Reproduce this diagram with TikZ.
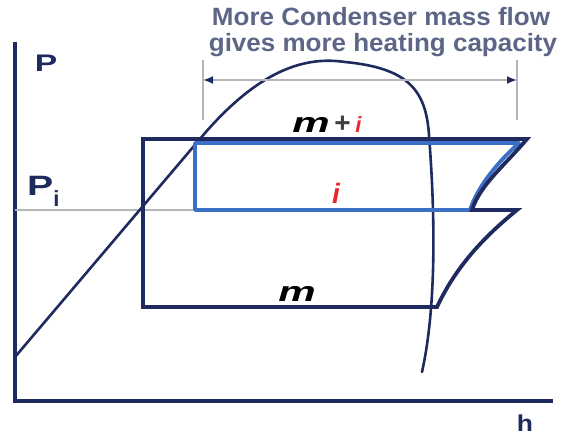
\documentclass[tikz,border=0pt]{standalone}
\usepackage{fontspec}
\setmainfont{Liberation Sans}
\usetikzlibrary{arrows.meta}
\definecolor{navy}{HTML}{1F2A5E}
\definecolor{cI}{HTML}{3C70C6}
\definecolor{slate}{HTML}{5E6687}
\definecolor{cR}{HTML}{E8262C}
\definecolor{grid}{HTML}{B4B6BA}
\tikzset{axis/.style={navy,line width=3.4pt,line join=miter},
  cyc/.style={navy,line width=3.8pt,line join=miter},
  cycI/.style={cI,line width=3.8pt,line join=round},
  dome/.style={navy,line width=2.6pt,line cap=round},
  dim/.style={grid,line width=1.8pt},
  lbl/.style={inner sep=0pt,text=navy,font=\bfseries\fontsize{24}{24}\selectfont},
  note/.style={inner sep=0pt,anchor=base,text=slate,font=\bfseries\fontsize{25}{25}\selectfont},
  flow/.style={inner sep=0pt,font=\bfseries\itshape\fontsize{28}{28}\selectfont}}
\newcommand{\widetxt}[2][1.4]{\scalebox{#1}[1]{#2}}

\begin{document}
\begin{tikzpicture}[x=1pt,y=-1pt]
  \useasboundingbox (0,0) rectangle (563,436);
  \draw[axis] (15,42) -- (15,401) -- (553,401);
  \draw[dim] (15,210) -- (195,210);
  \draw[dome] (15,357) -- (205,133) .. controls (260,70) and (305,56) .. (345,62)
    .. controls (408,68) and (426,90) .. (429,135) .. controls (434,200) and (438,300) .. (422,372);
  \draw[cycI] (195,210) -- (195,143) -- (519,143) .. controls (500,160) and (478,185) .. (470,210) -- cycle;
  \draw[cyc] (143,307) -- (143,139) -- (527,139) .. controls (505,165) and (480,185) .. (472,210) -- (517,210) .. controls (490,232) and (458,262) .. (437,307) -- cycle;
  \coordinate (dimL) at (203,80);
  \coordinate (dimR) at (517,80);
  \draw[dim] (203,60) -- (203,120) (517,60) -- (517,120);
  \draw[dim,{Latex[length=10pt,width=8pt,color=navy]}-{Latex[length=10pt,width=8pt,color=navy]}] (dimL) -- (dimR);
  \node[note] (note1) at (381,26) {\widetxt[1.04]{More Condenser mass flow}};
  \node[note] (note2) at (383,52) {\widetxt[1.04]{gives more heating capacity}};
  \node[lbl,anchor=base] (P) at (46,72) {\widetxt{P}};
  \node[lbl,anchor=base west,font=\bfseries\fontsize{28}{28}\selectfont] (Pi) at (27,195) {\widetxt{P}\raisebox{-11pt}{\fontsize{22}{22}\selectfont i}};
  \node[lbl,anchor=base,font=\bfseries\fontsize{23}{23}\selectfont] (h) at (525,431) {\widetxt[1.15]{h}};
  \node[flow,anchor=base] (mi) at (327,132) {\widetxt[1.5]{m}\,{\upshape\color{darkgray}+}\,{\color{cR}\fontsize{22}{22}\selectfont i}};
  \node[flow,anchor=base,text=cR] (i) at (336,203) {i};
  \node[flow,anchor=base] (m) at (297,301) {\widetxt[1.5]{m}};
\end{tikzpicture}
\end{document}
